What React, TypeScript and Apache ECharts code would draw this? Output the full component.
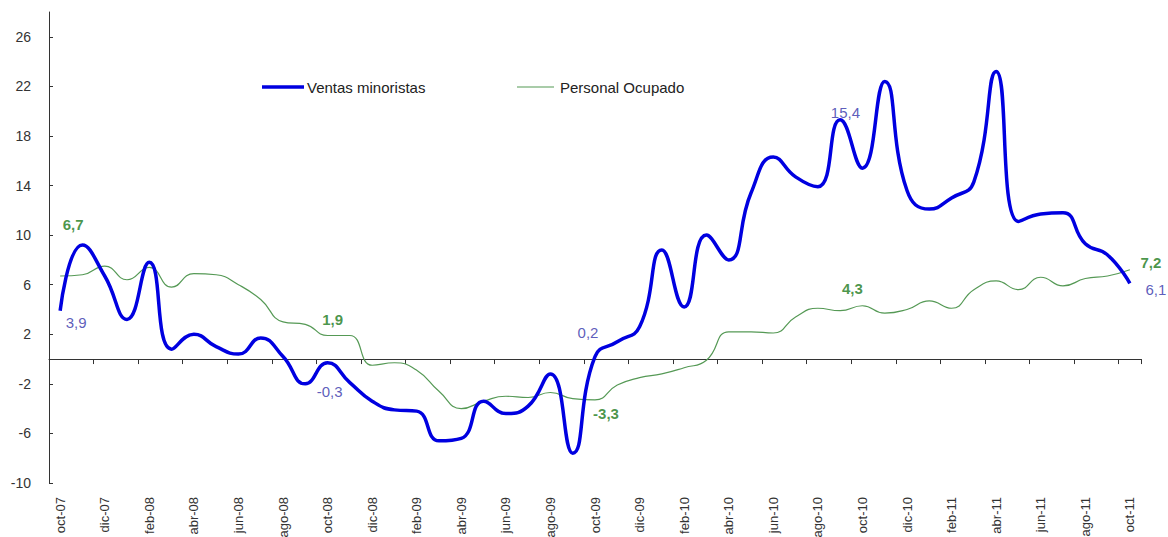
import React, { useEffect, useRef } from 'react';
import * as echarts from 'echarts';

const categories = [
  'oct-07', 'nov-07', 'dic-07',
  'ene-08', 'feb-08', 'mar-08', 'abr-08', 'may-08', 'jun-08', 'jul-08', 'ago-08', 'sep-08', 'oct-08', 'nov-08', 'dic-08',
  'ene-09', 'feb-09', 'mar-09', 'abr-09', 'may-09', 'jun-09', 'jul-09', 'ago-09', 'sep-09', 'oct-09', 'nov-09', 'dic-09',
  'ene-10', 'feb-10', 'mar-10', 'abr-10', 'may-10', 'jun-10', 'jul-10', 'ago-10', 'sep-10', 'oct-10', 'nov-10', 'dic-10',
  'ene-11', 'feb-11', 'mar-11', 'abr-11', 'may-11', 'jun-11', 'jul-11', 'ago-11', 'sep-11', 'oct-11',
];

const ventasMinoristas = [
  3.9, 9.2, 6.7, 3.2, 7.8, 0.8, 2.0, 1.0, 0.4, 1.7, 0.2, -2.0, -0.3,
  -1.9, -3.4, -4.1, -4.2, -6.6, -6.4, -3.4, -4.4, -3.8, -1.2, -7.6, 0.2,
  1.4, 2.6, 8.8, 4.2, 10.0, 8.0, 13.4, 16.3, 14.7, 13.9, 19.3, 15.4,
  22.4, 13.6, 12.1, 13.0, 14.3, 23.2, 11.1, 11.7, 11.8, 9.3, 8.4, 6.1,
];

const personalOcupado = [
  6.7, 6.8, 7.5, 6.4, 7.4, 5.8, 6.9, 6.8, 6.0, 4.8, 3.0, 2.8, 1.9,
  1.9, -0.5, -0.3, -0.9, -2.6, -4.0, -3.4, -3.0, -3.1, -2.7, -3.2, -3.3,
  -2.1, -1.5, -1.2, -0.7, -0.1, 2.2, 2.2, 2.1, 3.4, 4.1, 3.9, 4.3,
  3.7, 4.0, 4.7, 4.1, 5.6, 6.3, 5.6, 6.6, 5.9, 6.5, 6.7, 7.2,
];

const labeledIdx = [0, 12, 24, 36, 48];
const yTicks = [-10, -6, -2, 2, 6, 10, 14, 18, 22, 26];
const seriesNames = ['Ventas minoristas', 'Personal Ocupado'];

const FONT = "'Liberation Sans', Arial, sans-serif";
const BLUE = '#0000e0';
const GREEN = '#559955';
const BLUE_LABEL = '#3333aa';
const GREEN_LABEL = '#1b7a1b';

const fmt = (v: number) => v.toFixed(1).replace('.', ',');

export default function App() {
  const ref = useRef<HTMLDivElement>(null);

  useEffect(() => {
    if (!ref.current) return;
    const chart = echarts.init(ref.current, null, { renderer: 'svg' });

    const blueOffsets: Record<number, [number, number]> = {
      0: [16, 12], 12: [2, 29], 24: [-7, -24], 36: [-17, -56], 48: [26, 6],
    };
    const greenOffsets: Record<number, [number, number]> = {
      0: [13, -52], 12: [5, -16], 24: [11, 14], 36: [-10, -17], 48: [21, -7],
    };

    const labelSeries = (values: number[], offsets: Record<number, [number, number]>, color: string, bold: boolean) => ({
      type: 'scatter',
      xAxisIndex: 0,
      yAxisIndex: 0,
      symbol: 'circle',
      symbolSize: 1,
      itemStyle: { color: 'rgba(0,0,0,0)' },
      silent: true,
      z: 5,
      data: labeledIdx.map((i) => ({
        value: [i, values[i]],
        label: { offset: offsets[i] },
      })),
      label: {
        show: true,
        position: 'inside',
        formatter: (p: any) => fmt(p.value[1]),
        color,
        fontFamily: FONT,
        fontSize: 15,
        fontWeight: bold ? 'bold' : 'normal',
      },
    });

    const option: any = {
      animation: false,
      backgroundColor: '#ffffff',
      grid: { left: 49, right: 27, top: 12, bottom: 54, containLabel: false, outerBoundsMode: 'none' },
      xAxis: [
        {
          type: 'category',
          data: categories,
          position: 'bottom',
          boundaryGap: true,
          axisLine: { show: false, onZero: false },
          axisTick: { show: false },
          splitLine: { show: false },
          axisLabel: {
            interval: 1,
            rotate: 90,
            margin: 14,
            color: '#333',
            fontFamily: FONT,
            fontSize: 13,
          },
        },
        {
          type: 'category',
          data: categories,
          position: 'bottom',
          boundaryGap: true,
          axisLine: { show: true, onZero: true, lineStyle: { color: '#333', width: 1 } },
          axisTick: { show: true, interval: 1, length: 5, lineStyle: { color: '#333' } },
          axisLabel: { show: false },
          splitLine: { show: false },
        },
      ],
      yAxis: {
        type: 'value',
        min: -10,
        max: 28,
        axisLine: { show: true, lineStyle: { color: '#333', width: 1 } },
        axisTick: { show: true, inside: true, length: 4, customValues: yTicks, lineStyle: { color: '#333' } },
        axisLabel: {
          customValues: yTicks,
          margin: 18,
          color: '#333',
          fontFamily: FONT,
          fontSize: 14,
        },
        splitLine: { show: false },
      },
      series: [
        {
          name: seriesNames[1],
          type: 'line',
          xAxisIndex: 0,
          data: personalOcupado,
          smooth: 0.5,
          symbol: 'none',
          lineStyle: { color: GREEN, width: 1.2 },
          z: 2,
        },
        {
          name: seriesNames[0],
          type: 'line',
          xAxisIndex: 0,
          data: ventasMinoristas,
          smooth: 0.5,
          symbol: 'none',
          lineStyle: { color: BLUE, width: 3.5 },
          z: 3,
        },
        labelSeries(ventasMinoristas, blueOffsets, BLUE_LABEL, false),
        labelSeries(personalOcupado, greenOffsets, GREEN_LABEL, true),
      ],
      graphic: [
        { type: 'line', shape: { x1: 262, y1: 87, x2: 304, y2: 87 }, style: { stroke: BLUE, lineWidth: 3.5 } },
        {
          type: 'text', x: 307, y: 87,
          style: { text: seriesNames[0], fill: '#222', font: `15px ${FONT}`, verticalAlign: 'middle', align: 'left' },
        },
        { type: 'line', shape: { x1: 517, y1: 87, x2: 554, y2: 87 }, style: { stroke: GREEN, lineWidth: 1.2 } },
        {
          type: 'text', x: 560, y: 87,
          style: { text: seriesNames[1], fill: '#222', font: `15px ${FONT}`, verticalAlign: 'middle', align: 'left' },
        },
      ],
    };

    chart.setOption(option);
    return () => chart.dispose();
  }, []);

  return (
    <div
      ref={ref}
      style={{ position: 'fixed', left: 0, top: 0, width: 1168, height: 537, background: '#fff' }}
    />
  );
}
